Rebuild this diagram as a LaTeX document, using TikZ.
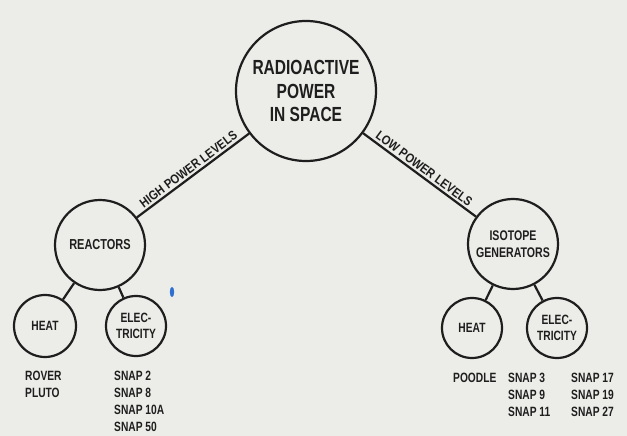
\documentclass[tikz,border=0pt]{standalone}
\usepackage{fontspec}
\newfontfamily\labfont[FakeStretch=0.76]{Liberation Sans Bold}
\newfontfamily\lvlfont[FakeStretch=0.85]{Liberation Sans Bold}
\definecolor{paper}{HTML}{ECECE8}
\definecolor{ink}{HTML}{1E1E1E}
\definecolor{bluemark}{HTML}{2E6FD0}
\begin{document}
\begin{tikzpicture}[x=1bp,y=-1bp,
  bubble/.style={circle,draw=ink,line width=2.2bp,inner sep=0pt,align=center,text=ink},
  conn/.style={draw=ink,line width=2.2bp},
  lvl/.style={sloped,above,inner sep=2bp,text=ink,font=\lvlfont\fontsize{13}{14}\selectfont},
  list/.style={anchor=north west,align=left,inner sep=0pt,text=ink,font=\labfont\fontsize{13.5}{17}\selectfont}
]
\fill[paper] (0,0) rectangle (627,436);
\useasboundingbox (0,0) rectangle (627,436);
\node[bubble,minimum size=140bp,font=\labfont\fontsize{20.5}{24}\selectfont] (main) at (306,91) {RADIOACTIVE\\POWER\\IN SPACE};
\node[bubble,minimum size=90bp,font=\labfont\fontsize{14.5}{18}\selectfont] (reac) at (100,245) {REACTORS};
\node[bubble,minimum size=90bp,font=\labfont\fontsize{14}{17}\selectfont] (iso) at (513,244) {ISOTOPE\\GENERATORS};
\node[bubble,minimum size=62bp,font=\labfont\fontsize{13.5}{16}\selectfont] (heatL) at (45,326) {HEAT};
\node[bubble,minimum size=60bp,font=\labfont\fontsize{13.5}{16}\selectfont] (elecL) at (136,326) {ELEC-\\TRICITY};
\node[bubble,minimum size=60bp,font=\labfont\fontsize{13.5}{16}\selectfont] (heatR) at (472,328) {HEAT};
\node[bubble,minimum size=60bp,font=\labfont\fontsize{13.5}{16}\selectfont] (elecR) at (557,328) {ELEC-\\TRICITY};
\draw[conn] (main) -- node[lvl] {HIGH POWER LEVELS} (reac);
\draw[conn] (main) -- node[lvl] {LOW POWER LEVELS} (iso);
\draw[conn] (reac) -- (heatL);
\draw[conn] (reac) -- (elecL);
\draw[conn] (iso) -- (heatR);
\draw[conn] (iso) -- (elecR);
\node[list] (l1) at (25,371) {ROVER\\PLUTO};
\node[list] (l2) at (114,371) {SNAP 2\\SNAP 8\\SNAP 10A\\SNAP 50};
\node[list] (r1) at (453,373) {POODLE};
\node[list] (r2) at (508,373) {SNAP 3\\SNAP 9\\SNAP 11};
\node[list] (r3) at (571,373) {SNAP 17\\SNAP 19\\SNAP 27};
\fill[bluemark] (172,292) ellipse (2.2bp and 5bp);
\end{tikzpicture}
\end{document}
